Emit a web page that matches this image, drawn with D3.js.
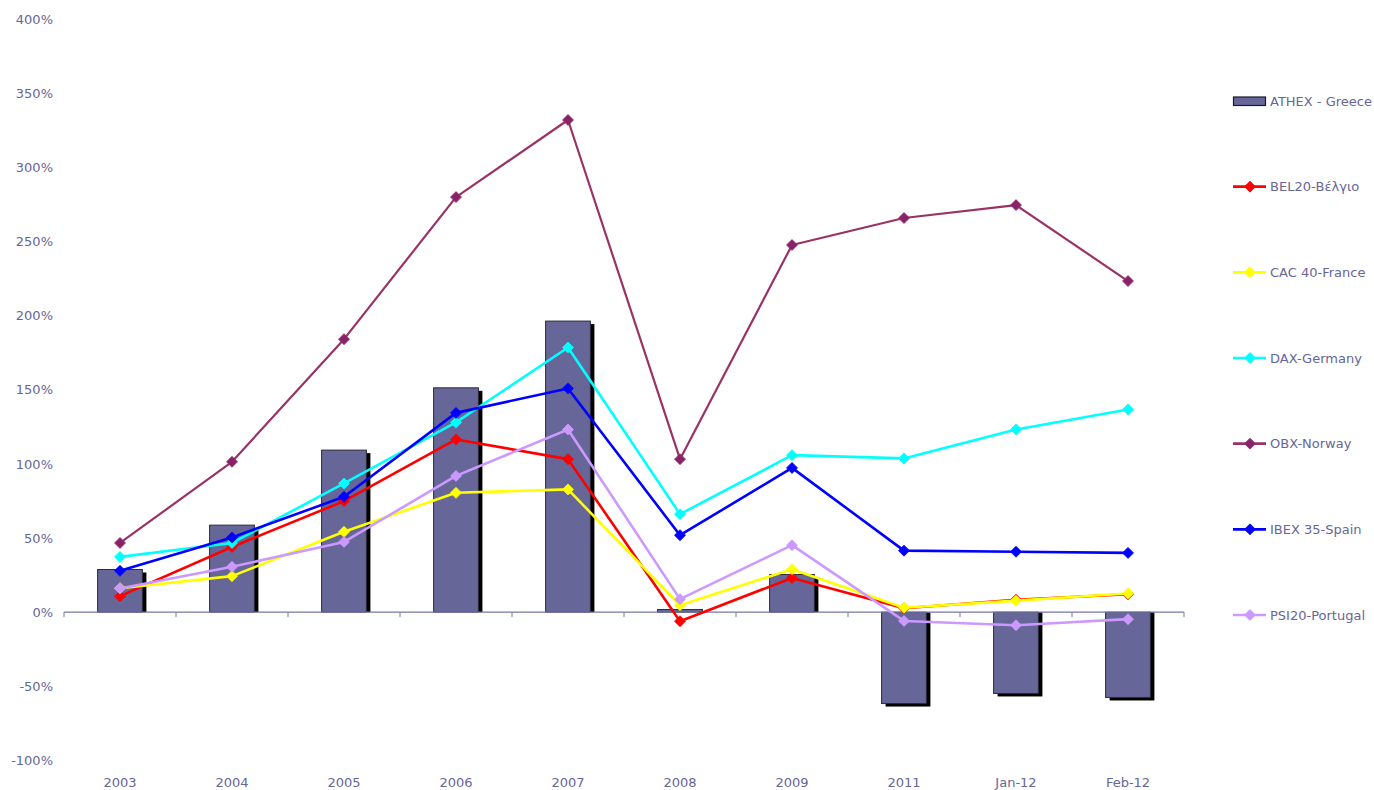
<!DOCTYPE html>
<meta charset="utf-8">
<html>
<head>
    <title>Stock indices</title>
    <style>
        body { margin: 0; background: #fff; }
        text { font-family: "DejaVu Sans", Verdana, sans-serif; fill: #666699; }
    </style>
    <script src="https://d3js.org/d3.v7.min.js"></script>
</head>
<body>
    <div id="chart"></div>
    <script>
        // data (percent)
        var categories = ["2003", "2004", "2005", "2006", "2007", "2008", "2009", "2011", "Jan-12", "Feb-12"];
        var yTicks = [-100, -50, 0, 50, 100, 150, 200, 250, 300, 350, 400];

        var athex = [28.8, 58.7, 109.3, 151.3, 196.3, 1.8, 25.4, -61.6, -54.8, -57.5];
        var bel20 = [10.8, 44.0, 74.9, 116.5, 103.2, -6.1, 23.1, 2.7, 8.4, 12.1];
        var cac40 = [16.2, 24.3, 54.2, 80.5, 82.8, 4.7, 29.0, 3.0, 7.8, 12.6];
        var dax = [37.3, 46.7, 86.8, 128.0, 178.5, 66.1, 105.9, 103.7, 123.2, 136.7];
        var obx = [46.7, 101.4, 184.1, 279.9, 331.9, 103.2, 247.6, 265.8, 274.5, 223.3];
        var ibex = [27.9, 50.4, 77.8, 134.4, 150.9, 51.9, 97.3, 41.5, 40.8, 40.0];
        var psi20 = [16.0, 30.6, 47.4, 91.9, 123.2, 8.8, 45.2, -5.9, -8.8, -4.7];

        var barName = "ATHEX - Greece";
        var lineSeries = [
            { name: "BEL20-Βέλγιο", values: bel20, color: "#ff0000" },
            { name: "CAC 40-France", values: cac40, color: "#ffff00" },
            { name: "DAX-Germany", values: dax, color: "#00ffff" },
            { name: "OBX-Norway", values: obx, color: "#993366" },
            { name: "IBEX 35-Spain", values: ibex, color: "#0000ff" },
            { name: "PSI20-Portugal", values: psi20, color: "#cc99ff" }
        ];

        var W = 1374, H = 790;
        var svg = d3.select("#chart").append("svg")
            .attr("width", W)
            .attr("height", H);

        var x = d3.scaleBand().domain(categories).range([64, 1184]);
        var y = d3.scaleLinear().domain([-100, 400]).range([760.5, 19]);
        var cx = function (i) { return x(categories[i]) + x.bandwidth() / 2; };
        var barW = x.bandwidth() * 0.4;

        // y labels
        var yAxis = svg.append("g")
            .attr("transform", "translate(53,0)")
            .call(d3.axisLeft(y).tickValues(yTicks).tickSize(0).tickPadding(0)
                .tickFormat(function (d) { return d + "%"; }));
        yAxis.select(".domain").remove();
        yAxis.selectAll("text").attr("font-size", 13).style("font-family", null).attr("fill", "#666699");

        // bars with drop shadow
        var bars = svg.append("g");
        bars.selectAll("rect.shadow")
            .data(athex)
            .enter().append("rect")
            .attr("class", "shadow")
            .attr("x", function (d, i) { return cx(i) - barW / 2 + 4; })
            .attr("y", function (d) { return d >= 0 ? y(d) + 3 : y(0); })
            .attr("width", barW)
            .attr("height", function (d) { return d >= 0 ? y(0) - y(d) - 3 : y(d) - y(0) + 3; })
            .attr("fill", "#000");
        bars.selectAll("rect.bar")
            .data(athex)
            .enter().append("rect")
            .attr("class", "bar")
            .attr("x", function (d, i) { return cx(i) - barW / 2; })
            .attr("y", function (d) { return y(Math.max(d, 0)); })
            .attr("width", barW)
            .attr("height", function (d) { return Math.abs(y(d) - y(0)); })
            .attr("fill", "#666699")
            .attr("stroke", "#2a2a3a")
            .attr("stroke-width", 1);

        // x axis line with ticks between categories
        var axisG = svg.append("g");
        axisG.append("line")
            .attr("x1", 64).attr("x2", 1184)
            .attr("y1", y(0)).attr("y2", y(0))
            .attr("stroke", "#7777aa").attr("stroke-width", 1.2);
        axisG.selectAll("line.tk")
            .data(categories.concat([null]))
            .enter().append("line")
            .attr("class", "tk")
            .attr("x1", function (d, i) { return 64 + i * x.bandwidth(); })
            .attr("x2", function (d, i) { return 64 + i * x.bandwidth(); })
            .attr("y1", y(0)).attr("y2", y(0) + 5)
            .attr("stroke", "#7777aa");

        var xAxis = svg.append("g")
            .attr("transform", "translate(0,778)")
            .call(d3.axisBottom(x).tickSize(0).tickPadding(0));
        xAxis.select(".domain").remove();
        xAxis.selectAll("text").attr("font-size", 13).style("font-family", null).attr("fill", "#666699");

        var diamond = function (r) { return "M0," + (-r) + "L" + r + ",0L0," + r + "L" + (-r) + ",0Z"; };

        // lines
        var line = d3.line()
            .x(function (d, i) { return cx(i); })
            .y(function (d) { return y(d); });

        lineSeries.forEach(function (s) {
            var g = svg.append("g");
            g.append("path")
                .attr("d", line(s.values))
                .attr("fill", "none")
                .attr("stroke", s.color)
                .attr("stroke-width", s.name == "OBX-Norway" ? 2.2 : 2.6)
                .attr("stroke-linejoin", "round");
            g.selectAll("path.m")
                .data(s.values)
                .enter().append("path")
                .attr("class", "m")
                .attr("d", diamond(5.5))
                .attr("transform", function (d, i) { return "translate(" + cx(i) + "," + y(d) + ")"; })
                .attr("fill", s.name == "OBX-Norway" ? "#88226a" : s.color)
                .attr("stroke", s.name == "OBX-Norway" ? "#993366" : s.color)
                .attr("stroke-width", 0.8);
        });

        // legend
        var legY = d3.scalePoint().domain(d3.range(7)).range([101, 615]);
        var leg = svg.append("g");
        var lg0 = leg.append("g").attr("transform", "translate(1233," + legY(0) + ")");
        lg0.append("rect")
            .attr("x", 0.5).attr("y", -4).attr("width", 32).attr("height", 8.5)
            .attr("fill", "#666699").attr("stroke", "#1a1a2a").attr("stroke-width", 1.2);
        lg0.append("text").attr("x", 37).attr("dy", "0.35em").attr("font-size", 13).text(barName);

        lineSeries.forEach(function (s, k) {
            var g = leg.append("g").attr("transform", "translate(1233," + legY(k + 1) + ")");
            g.append("line")
                .attr("x1", 0).attr("x2", 33)
                .attr("stroke", s.color).attr("stroke-width", 2.6);
            g.append("path")
                .attr("d", diamond(5.5))
                .attr("transform", "translate(17,0)")
                .attr("fill", s.name == "OBX-Norway" ? "#88226a" : s.color)
                .attr("stroke", s.color).attr("stroke-width", 0.8);
            g.append("text").attr("x", 37).attr("dy", "0.35em").attr("font-size", 13).text(s.name);
        });
    </script>
</body>
</html>
